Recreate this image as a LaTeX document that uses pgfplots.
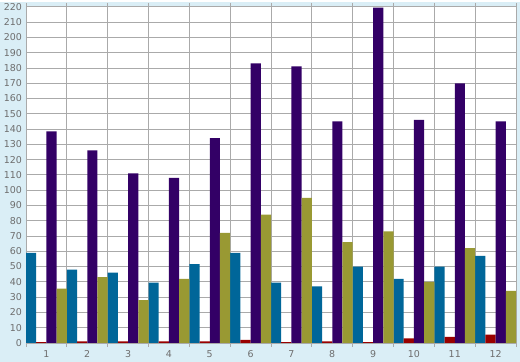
\documentclass[border=0pt]{standalone}
\usepackage{fontspec}
\setmainfont{DejaVu Sans}
\usepackage{pgfplots}
\usepackage{pgfplotstable}
\pgfplotsset{compat=1.18}
\definecolor{bg}{RGB}{218,238,246}
\definecolor{cblue}{RGB}{0,102,153}
\definecolor{cred}{RGB}{153,0,0}
\definecolor{cpurple}{RGB}{51,0,102}
\definecolor{colive}{RGB}{153,153,51}
\definecolor{gridgray}{RGB}{170,170,170}
\definecolor{labgray}{RGB}{110,110,110}
\pgfplotstableread{
x blue red purple olive
1 59 0.5 138.5 35.5
2 48 1 126 43
3 46 1 111 28
4 39.5 1 108 42
5 51.5 1 134 72
6 59 2 183 84
7 39.5 0.5 181 95
8 37 1 145 66
9 50 0.5 219.5 73
10 42 3 146 40
11 50 4 170 62
12 57 5.5 145 34
}\datatable
\begin{document}
\begin{tikzpicture}
\fill[bg] (0bp,0bp) rectangle (520bp,360bp);
\begin{axis}[
 at={(26bp,19bp)}, anchor=south west,
 scale only axis, width=490bp, height=336bp,
 ymin=0, ymax=220, xmin=0.5, xmax=12.5,
 ybar=0pt, bar width=10.2083bp,
 axis background/.style={fill=white},
 axis line style={gridgray, line width=0.8bp},
 ytick={0,10,...,220},
 xtick={1,...,12},
 minor xtick={0.5,1.5,...,12.5},
 ymajorgrids, xminorgrids,
 grid style={gridgray, line width=0.8bp},
 minor grid style={gridgray, line width=0.8bp},
 major tick length=0pt,
 minor tick length=4bp,
 tick align=outside,
 minor tick style={gridgray, line width=0.8bp},
 tick label style={font=\fontsize{9.5}{11}\selectfont, text=labgray},
 /pgf/number format/assume math mode=true,
 xticklabel style={yshift=-4bp},
 yticklabel style={xshift=-0.5bp},
 every axis plot/.append style={draw=none},
]
\addplot[fill=cblue] table[x=x, y=blue] {\datatable};
\addplot[fill=cred] table[x=x, y=red] {\datatable};
\addplot[fill=cpurple] table[x=x, y=purple] {\datatable};
\addplot[fill=colive] table[x=x, y=olive] {\datatable};
\end{axis}
\end{tikzpicture}
\end{document}
